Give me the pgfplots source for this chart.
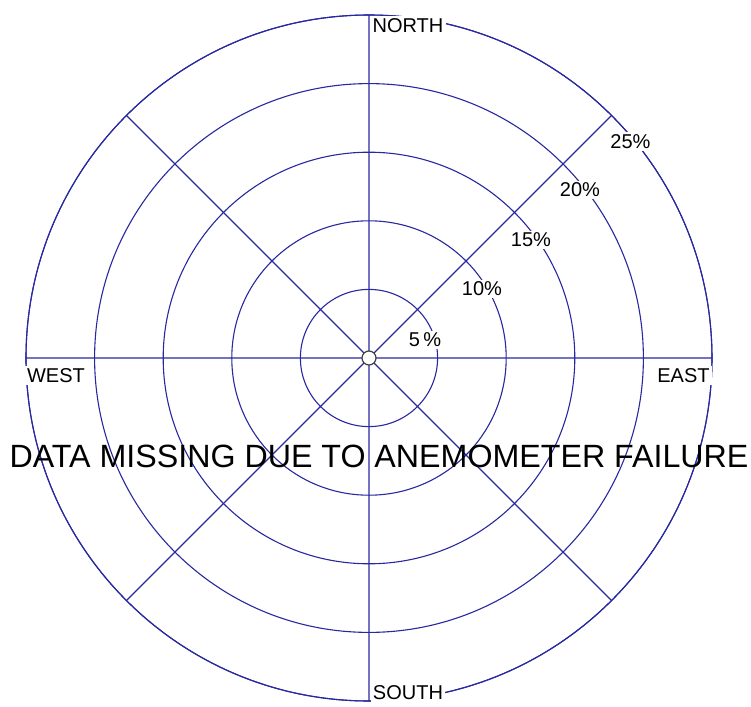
\documentclass[border=0pt]{standalone}
\usepackage{pgfplots}
\pgfplotsset{compat=1.18}
\usepgfplotslibrary{polar}
\usepackage{fontspec}
\setmainfont{Liberation Sans}
\definecolor{navy}{RGB}{40,40,160}
\begin{document}
\begin{tikzpicture}
\path[use as bounding box] (-184.5pt,-174.5pt) rectangle (191pt,179pt);
\begin{polaraxis}[at={(0pt,0pt)}, anchor=center,
  width=343pt, height=343pt, scale only axis,
  xmin=0, xmax=360, ymin=0, ymax=25,
  xtick={0,45,...,315}, ytick={5,10,15,20,25},
  xticklabels={}, yticklabels={},
  grid=major,
  major grid style={navy, line width=0.55pt},
  axis line style={navy, line width=0.55pt},
  y axis line style={draw=none},
  major tick length=0pt, clip=false]
\addplot[only marks, mark=*, mark size=3.5pt,
  mark options={fill=white, draw=black!75, line width=0.6pt}] coordinates {(0,0)};
\end{polaraxis}
\begin{scope}[every node/.style={fill=white, inner sep=1.2pt, font=\fontsize{10}{12}\selectfont}]
\node at (19.5pt,166.25pt) {NORTH};
\node at (19.5pt,-167.25pt) {SOUTH};
\node at (-156.5pt,-8.75pt) {WEST};
\node at (157.25pt,-8.75pt) {EAST};
\node at (28pt,9pt) {5\,\%};
\node at (56.5pt,34.5pt) {10\%};
\node at (81pt,59pt) {15\%};
\node at (105.5pt,84pt) {20\%};
\node at (130.75pt,108.25pt) {25\%};
\end{scope}
\node[font=\fontsize{16.1}{18}\selectfont, inner sep=0pt] at (5pt,-49pt) {DATA MISSING DUE TO ANEMOMETER FAILURE};
\end{tikzpicture}
\end{document}
